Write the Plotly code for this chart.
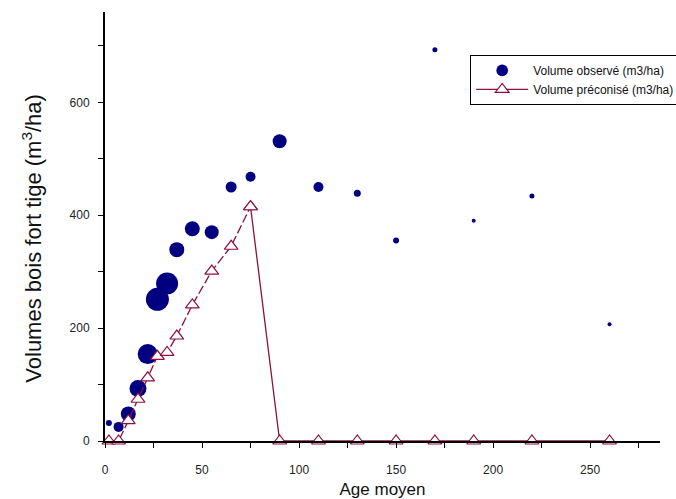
import plotly.graph_objects as go

# Ages (years) of the stand classes
age = [2, 7, 12, 17, 22, 27, 32, 37, 45, 55, 65, 75, 90, 110, 130, 150, 170, 190, 220, 260]

# Observed standing volume (m3/ha)
vol_observe = [32, 25, 48, 93, 154, 251, 279, 339, 376, 370, 450, 468, 531, 450, 439, 355, 693, 390, 434, 207]

# Number of plots behind each observed mean (drives bubble size)
effectif = [6, 10, 15, 17, 20, 23, 22, 15, 15, 14, 11, 10, 14, 10, 7, 6, 5, 4, 5, 4]

# Recommended standing volume (m3/ha)
vol_preconise = [0, 0, 36, 74, 112, 150, 157, 186, 241, 301, 345, 415, 0, 0, 0, 0, 0, 0, 0, 0]

NAVY = "#000080"
RED = "#8c1040"
FONT = "Liberation Sans, Arial, sans-serif"

i_max = vol_preconise.index(max(vol_preconise))
tri = dict(symbol="triangle-up", size=12, color="white", line=dict(color=RED, width=1.2))

fig = go.Figure()

fig.add_trace(go.Scatter(
    x=age, y=vol_observe, mode="markers",
    name="Volume observé (m3/ha)",
    marker=dict(color=NAVY, size=effectif, sizemode="diameter", opacity=1,
                line=dict(width=0)),
    cliponaxis=False,
))

# Rising part of the recommended curve (dashed)
fig.add_trace(go.Scatter(
    x=age[:i_max + 1], y=vol_preconise[:i_max + 1], mode="lines+markers",
    line=dict(color=RED, width=1.3, dash="9px,3px"), marker=tri,
    showlegend=False, cliponaxis=False,
))

# Drop after the maximum and the remaining ages (solid)
fig.add_trace(go.Scatter(
    x=age[i_max:], y=vol_preconise[i_max:], mode="lines+markers",
    name="Volume préconisé (m3/ha)",
    line=dict(color=RED, width=1.3), marker=tri,
    cliponaxis=False,
))

fig.update_layout(
    width=676, height=499,
    margin=dict(l=105, r=16, t=12, b=58, autoexpand=False),
    paper_bgcolor="white", plot_bgcolor="white",
    font=dict(family=FONT, color="#222222", size=12),
    showlegend=True,
    legend=dict(
        x=0.658, y=0.9, xanchor="left", yanchor="top",
        bordercolor="#000000", borderwidth=1, bgcolor="white",
        font=dict(size=12, family=FONT, color="#111111"),
        itemwidth=52, tracegroupgap=0,
    ),
    annotations=[dict(
        text="Volumes bois fort tige (m<sup>3</sup>/ha)",
        xref="paper", yref="paper", x=-0.133, y=0.472,
        xanchor="center", yanchor="middle", textangle=-90, showarrow=False,
        font=dict(size=22, family=FONT, color="#111111"),
    )],
)

fig.update_xaxes(
    range=[0, 286], showgrid=False, zeroline=False, automargin=False,
    showline=True, linecolor="black", linewidth=2,
    ticks="outside", ticklen=5, tickcolor="black", tickwidth=1,
    tickvals=[0, 50, 100, 150, 200, 250], ticklabelstandoff=12,
    minor=dict(ticks="outside", ticklen=5, tickcolor="black", dtick=25, tick0=0),
    title=dict(text="Age moyen", font=dict(size=17, family=FONT, color="#111111"), standoff=8),
)

fig.update_yaxes(
    range=[0, 760], showgrid=False, zeroline=False, automargin=False,
    showline=True, linecolor="black", linewidth=2,
    ticks="outside", ticklen=5, tickcolor="black", tickwidth=1,
    tickvals=[0, 200, 400, 600], ticklabelstandoff=6,
    minor=dict(ticks="outside", ticklen=5, tickcolor="black", dtick=100, tick0=0),
)

fig.write_html("out.html")
